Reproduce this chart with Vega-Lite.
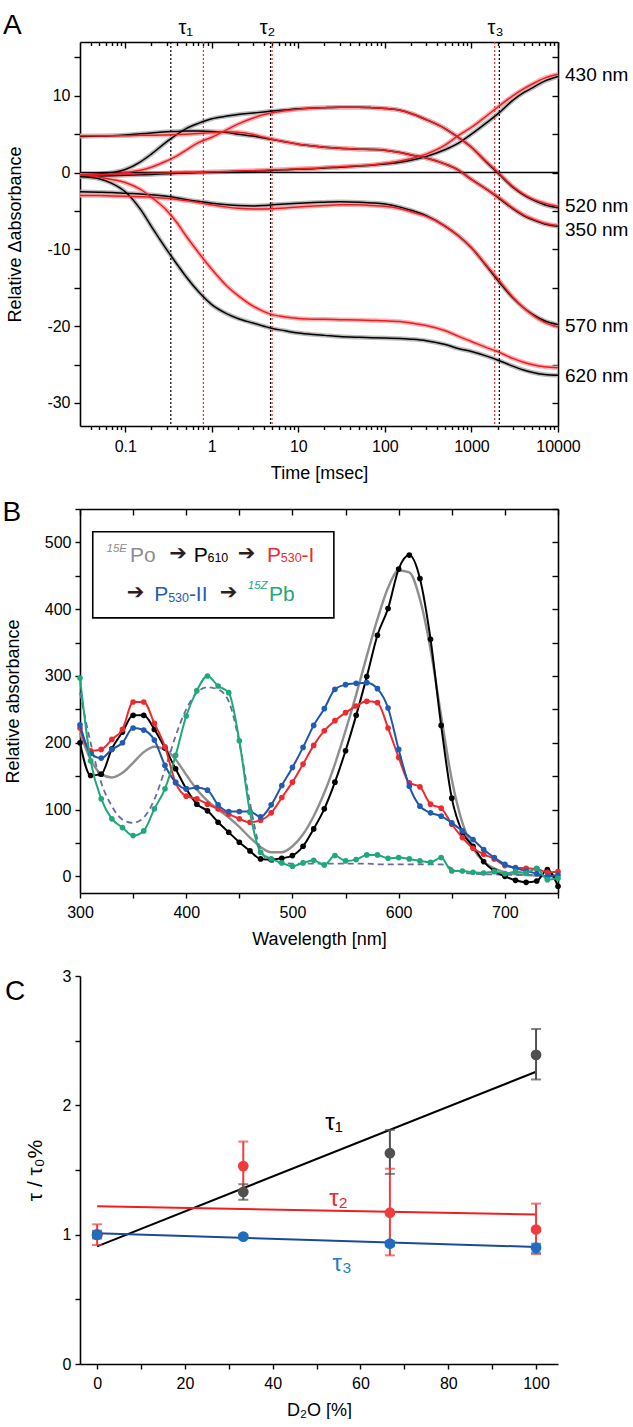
{
 "$schema": "https://vega.github.io/schema/vega-lite/v6.json",
 "padding": 0,
 "bounds": "flush",
 "spacing": 83,
 "resolve": {"scale": {"color": "independent"}},
 "config": {
  "font": "Liberation Sans",
  "view": {"stroke": null},
  "axis": {"grid": false, "labelFont": "Liberation Sans", "labelFontSize": 16, "labelColor": "#000", "titleFont": "Liberation Sans", "titleFontSize": 18, "titleFontWeight": "normal", "titleColor": "#000", "domainColor": "#000", "domainWidth": 1.6, "tickColor": "#000", "tickWidth": 1.4, "labelFlush": false, "labelOverlap": false, "labelBound": false},
  "axisX": {"labelPadding": 6, "titlePadding": 10},
  "axisY": {"labelPadding": 4},
  "text": {"font": "Liberation Sans"}
 },
 "datasets": {
  "fitsA": [
   {"t":0.03,"c":"H2O","w430":-0.5,"w520":-0.3,"w350":4.7,"w570":-2.5,"w620":-0.5},
   {"t":0.03,"c":"D2O","w430":-0.3,"w520":-0.3,"w350":4.8,"w570":-3.0,"w620":-0.3},
   {"t":0.05,"c":"H2O","w430":-0.45,"w520":-0.2,"w350":4.75,"w570":-2.55,"w620":-0.8},
   {"t":0.05,"c":"D2O","w430":-0.3,"w520":-0.25,"w350":4.8,"w570":-3.0,"w620":-0.6},
   {"t":0.07,"c":"H2O","w430":-0.4,"w520":0.0,"w350":4.8,"w570":-2.6,"w620":-1.4},
   {"t":0.07,"c":"D2O","w430":-0.25,"w520":-0.15,"w350":4.8,"w570":-3.05,"w620":-0.9},
   {"t":0.1,"c":"H2O","w430":-0.35,"w520":0.4,"w350":4.9,"w570":-2.7,"w620":-2.5},
   {"t":0.1,"c":"D2O","w430":-0.2,"w520":0.0,"w350":4.8,"w570":-3.1,"w620":-1.3},
   {"t":0.15,"c":"H2O","w430":-0.3,"w520":1.4,"w350":5.05,"w570":-2.8,"w620":-4.8},
   {"t":0.15,"c":"D2O","w430":-0.15,"w520":0.3,"w350":4.85,"w570":-3.15,"w620":-2.2},
   {"t":0.2,"c":"H2O","w430":-0.25,"w520":2.4,"w350":5.15,"w570":-2.9,"w620":-7.0},
   {"t":0.2,"c":"D2O","w430":-0.1,"w520":0.7,"w350":4.85,"w570":-3.2,"w620":-3.2},
   {"t":0.3,"c":"H2O","w430":-0.15,"w520":4.0,"w350":5.3,"w570":-3.1,"w620":-10.0},
   {"t":0.3,"c":"D2O","w430":-0.05,"w520":1.5,"w350":4.9,"w570":-3.35,"w620":-4.9},
   {"t":0.4,"c":"H2O","w430":-0.1,"w520":5.0,"w350":5.35,"w570":-3.3,"w620":-12.0},
   {"t":0.4,"c":"D2O","w430":0.0,"w520":2.2,"w350":4.95,"w570":-3.5,"w620":-6.6},
   {"t":0.5,"c":"H2O","w430":-0.05,"w520":5.7,"w350":5.4,"w570":-3.5,"w620":-13.5},
   {"t":0.5,"c":"D2O","w430":0.05,"w520":2.9,"w350":5.0,"w570":-3.65,"w620":-8.2},
   {"t":0.7,"c":"H2O","w430":0.0,"w520":6.4,"w350":5.4,"w570":-3.75,"w620":-15.5},
   {"t":0.7,"c":"D2O","w430":0.05,"w520":3.9,"w350":5.1,"w570":-3.9,"w620":-10.4},
   {"t":1,"c":"H2O","w430":0.05,"w520":7.0,"w350":5.35,"w570":-4.0,"w620":-17.2},
   {"t":1,"c":"D2O","w430":0.1,"w520":4.6,"w350":5.2,"w570":-4.2,"w620":-12.6},
   {"t":1.5,"c":"H2O","w430":0.1,"w520":7.35,"w350":5.2,"w570":-4.2,"w620":-18.4},
   {"t":1.5,"c":"D2O","w430":0.15,"w520":5.6,"w350":5.3,"w570":-4.5,"w620":-14.8},
   {"t":2,"c":"H2O","w430":0.15,"w520":7.55,"w350":5.0,"w570":-4.3,"w620":-19.0},
   {"t":2,"c":"D2O","w430":0.2,"w520":6.3,"w350":5.25,"w570":-4.65,"w620":-16.0},
   {"t":3,"c":"H2O","w430":0.2,"w520":7.75,"w350":4.75,"w570":-4.35,"w620":-19.6},
   {"t":3,"c":"D2O","w430":0.25,"w520":7.1,"w350":4.95,"w570":-4.75,"w620":-17.4},
   {"t":4,"c":"H2O","w430":0.25,"w520":7.9,"w350":4.5,"w570":-4.3,"w620":-20.0},
   {"t":4,"c":"D2O","w430":0.3,"w520":7.55,"w350":4.6,"w570":-4.75,"w620":-18.1},
   {"t":5,"c":"H2O","w430":0.3,"w520":8.0,"w350":4.3,"w570":-4.2,"w620":-20.3},
   {"t":5,"c":"D2O","w430":0.35,"w520":7.8,"w350":4.35,"w570":-4.7,"w620":-18.5},
   {"t":7,"c":"H2O","w430":0.35,"w520":8.15,"w350":4.0,"w570":-4.1,"w620":-20.6},
   {"t":7,"c":"D2O","w430":0.4,"w520":8.05,"w350":4.0,"w570":-4.6,"w620":-18.8},
   {"t":10,"c":"H2O","w430":0.45,"w520":8.3,"w350":3.7,"w570":-4.0,"w620":-20.9},
   {"t":10,"c":"D2O","w430":0.5,"w520":8.25,"w350":3.7,"w570":-4.5,"w620":-19.0},
   {"t":15,"c":"H2O","w430":0.5,"w520":8.4,"w350":3.45,"w570":-3.9,"w620":-21.1},
   {"t":15,"c":"D2O","w430":0.55,"w520":8.4,"w350":3.45,"w570":-4.35,"w620":-19.1},
   {"t":20,"c":"H2O","w430":0.6,"w520":8.45,"w350":3.3,"w570":-3.85,"w620":-21.2},
   {"t":20,"c":"D2O","w430":0.65,"w520":8.45,"w350":3.3,"w570":-4.3,"w620":-19.1},
   {"t":30,"c":"H2O","w430":0.7,"w520":8.5,"w350":3.15,"w570":-3.8,"w620":-21.35},
   {"t":30,"c":"D2O","w430":0.75,"w520":8.5,"w350":3.15,"w570":-4.2,"w620":-19.15},
   {"t":50,"c":"H2O","w430":0.85,"w520":8.5,"w350":3.05,"w570":-3.85,"w620":-21.45},
   {"t":50,"c":"D2O","w430":0.9,"w520":8.5,"w350":3.05,"w570":-4.2,"w620":-19.2},
   {"t":70,"c":"H2O","w430":0.95,"w520":8.45,"w350":3.0,"w570":-3.95,"w620":-21.5},
   {"t":70,"c":"D2O","w430":1.0,"w520":8.45,"w350":3.0,"w570":-4.3,"w620":-19.25},
   {"t":100,"c":"H2O","w430":1.1,"w520":8.35,"w350":2.9,"w570":-4.1,"w620":-21.55},
   {"t":100,"c":"D2O","w430":1.2,"w520":8.35,"w350":2.9,"w570":-4.4,"w620":-19.3},
   {"t":150,"c":"H2O","w430":1.35,"w520":8.1,"w350":2.6,"w570":-4.5,"w620":-21.6},
   {"t":150,"c":"D2O","w430":1.5,"w520":8.1,"w350":2.6,"w570":-4.7,"w620":-19.4},
   {"t":200,"c":"H2O","w430":1.6,"w520":7.7,"w350":2.3,"w570":-4.9,"w620":-21.7},
   {"t":200,"c":"D2O","w430":1.8,"w520":7.7,"w350":2.3,"w570":-5.1,"w620":-19.6},
   {"t":300,"c":"H2O","w430":2.1,"w520":6.9,"w350":1.9,"w570":-5.6,"w620":-21.9},
   {"t":300,"c":"D2O","w430":2.4,"w520":6.9,"w350":1.9,"w570":-5.7,"w620":-19.9},
   {"t":500,"c":"H2O","w430":3.0,"w520":5.7,"w350":1.1,"w570":-7.0,"w620":-22.4},
   {"t":500,"c":"D2O","w430":3.6,"w520":5.7,"w350":1.1,"w570":-7.0,"w620":-20.6},
   {"t":700,"c":"H2O","w430":3.8,"w520":4.6,"w350":0.35,"w570":-8.2,"w620":-22.9},
   {"t":700,"c":"D2O","w430":4.8,"w520":4.6,"w350":0.35,"w570":-8.2,"w620":-21.3},
   {"t":1000,"c":"H2O","w430":5.0,"w520":3.3,"w350":-0.9,"w570":-9.8,"w620":-23.3},
   {"t":1000,"c":"D2O","w430":5.9,"w520":3.3,"w350":-0.9,"w570":-9.8,"w620":-22.0},
   {"t":1500,"c":"H2O","w430":6.5,"w520":1.3,"w350":-2.2,"w570":-12.2,"w620":-23.9},
   {"t":1500,"c":"D2O","w430":7.4,"w520":1.4,"w350":-2.2,"w570":-12.1,"w620":-22.8},
   {"t":2000,"c":"H2O","w430":7.6,"w520":0.0,"w350":-3.2,"w570":-14.0,"w620":-24.4},
   {"t":2000,"c":"D2O","w430":8.5,"w520":0.1,"w350":-3.1,"w570":-13.8,"w620":-23.3},
   {"t":3000,"c":"H2O","w430":9.4,"w520":-1.9,"w350":-4.7,"w570":-16.3,"w620":-25.2},
   {"t":3000,"c":"D2O","w430":10.0,"w520":-1.8,"w350":-4.6,"w570":-16.2,"w620":-24.2},
   {"t":4000,"c":"H2O","w430":10.4,"w520":-2.9,"w350":-5.6,"w570":-17.6,"w620":-25.7},
   {"t":4000,"c":"D2O","w430":10.9,"w520":-2.8,"w350":-5.5,"w570":-17.6,"w620":-24.7},
   {"t":5000,"c":"H2O","w430":11.0,"w520":-3.5,"w350":-6.1,"w570":-18.4,"w620":-26.0},
   {"t":5000,"c":"D2O","w430":11.5,"w520":-3.4,"w350":-6.0,"w570":-18.5,"w620":-25.0},
   {"t":7000,"c":"H2O","w430":11.9,"w520":-4.2,"w350":-6.7,"w570":-19.3,"w620":-26.3},
   {"t":7000,"c":"D2O","w430":12.3,"w520":-4.0,"w350":-6.6,"w570":-19.5,"w620":-25.3},
   {"t":10000,"c":"H2O","w430":12.5,"w520":-4.6,"w350":-7.0,"w570":-19.8,"w620":-26.4},
   {"t":10000,"c":"D2O","w430":12.8,"w520":-4.4,"w350":-6.9,"w570":-20.1,"w620":-25.4}
  ],
  "specB": [
   {"nm":300,"Po":215,"P610":200,"P530I":222,"P530II":227,"Pb":297,"ref":275},
   {"nm":310,"Po":175,"P610":151,"P530I":188,"P530II":184,"Pb":173,"ref":200},
   {"nm":320,"Po":153,"P610":153,"P530I":190,"P530II":177,"Pb":116,"ref":140},
   {"nm":330,"Po":148,"P610":191,"P530I":205,"P530II":190,"Pb":86,"ref":105},
   {"nm":340,"Po":155,"P610":216,"P530I":220,"P530II":200,"Pb":73,"ref":85},
   {"nm":350,"Po":170,"P610":241,"P530I":261,"P530II":222,"Pb":61,"ref":80},
   {"nm":360,"Po":186,"P610":241,"P530I":261,"P530II":219,"Pb":68,"ref":88},
   {"nm":370,"Po":194,"P610":220,"P530I":229,"P530II":204,"Pb":101,"ref":115},
   {"nm":380,"Po":190,"P610":192,"P530I":194,"P530II":166,"Pb":131,"ref":160},
   {"nm":390,"Po":175,"P610":161,"P530I":140,"P530II":141,"Pb":181,"ref":210},
   {"nm":400,"Po":152,"P610":131,"P530I":120,"P530II":131,"Pb":240,"ref":250},
   {"nm":410,"Po":130,"P610":108,"P530I":116,"P530II":133,"Pb":278,"ref":275},
   {"nm":420,"Po":113,"P610":98,"P530I":108,"P530II":129,"Pb":300,"ref":283},
   {"nm":430,"Po":100,"P610":81,"P530I":101,"P530II":107,"Pb":285,"ref":280},
   {"nm":440,"Po":88,"P610":66,"P530I":93,"P530II":97,"Pb":275,"ref":262},
   {"nm":450,"Po":74,"P610":51,"P530I":86,"P530II":97,"Pb":203,"ref":200},
   {"nm":460,"Po":58,"P610":38,"P530I":81,"P530II":97,"Pb":96,"ref":110},
   {"nm":470,"Po":44,"P610":26,"P530I":84,"P530II":89,"Pb":36,"ref":40},
   {"nm":480,"Po":36,"P610":25,"P530I":95,"P530II":107,"Pb":26,"ref":22},
   {"nm":490,"Po":36,"P610":27,"P530I":118,"P530II":136,"Pb":20,"ref":20},
   {"nm":500,"Po":45,"P610":31,"P530I":141,"P530II":163,"Pb":15,"ref":19},
   {"nm":510,"Po":63,"P610":45,"P530I":168,"P530II":193,"Pb":20,"ref":19},
   {"nm":520,"Po":90,"P610":71,"P530I":196,"P530II":226,"Pb":24,"ref":19},
   {"nm":530,"Po":125,"P610":101,"P530I":218,"P530II":251,"Pb":17,"ref":19},
   {"nm":540,"Po":168,"P610":141,"P530I":233,"P530II":280,"Pb":31,"ref":19},
   {"nm":550,"Po":218,"P610":188,"P530I":245,"P530II":287,"Pb":23,"ref":19},
   {"nm":560,"Po":272,"P610":241,"P530I":255,"P530II":289,"Pb":25,"ref":19},
   {"nm":570,"Po":330,"P610":299,"P530I":262,"P530II":290,"Pb":32,"ref":19},
   {"nm":580,"Po":385,"P610":361,"P530I":260,"P530II":281,"Pb":32,"ref":18},
   {"nm":590,"Po":432,"P610":401,"P530I":222,"P530II":252,"Pb":27,"ref":18},
   {"nm":600,"Po":458,"P610":460,"P530I":178,"P530II":190,"Pb":28,"ref":18},
   {"nm":610,"Po":455,"P610":481,"P530I":140,"P530II":135,"Pb":26,"ref":18},
   {"nm":620,"Po":415,"P610":446,"P530I":134,"P530II":105,"Pb":23,"ref":18},
   {"nm":630,"Po":340,"P610":355,"P530I":108,"P530II":95,"Pb":21,"ref":18},
   {"nm":640,"Po":240,"P610":226,"P530I":102,"P530II":90,"Pb":28,"ref":18},
   {"nm":650,"Po":145,"P610":117,"P530I":78,"P530II":80,"Pb":8,"ref":12},
   {"nm":660,"Po":80,"P610":66,"P530I":58,"P530II":68,"Pb":8,"ref":6},
   {"nm":670,"Po":42,"P610":45,"P530I":42,"P530II":55,"Pb":6,"ref":4},
   {"nm":680,"Po":22,"P610":22,"P530I":33,"P530II":40,"Pb":5,"ref":3},
   {"nm":690,"Po":12,"P610":8,"P530I":26,"P530II":28,"Pb":7,"ref":3},
   {"nm":700,"Po":6,"P610":0,"P530I":16,"P530II":18,"Pb":4,"ref":2},
   {"nm":710,"Po":3,"P610":-6,"P530I":13,"P530II":12,"Pb":7,"ref":2},
   {"nm":720,"Po":2,"P610":-9,"P530I":12,"P530II":8,"Pb":5,"ref":2},
   {"nm":730,"Po":1,"P610":-7,"P530I":11,"P530II":4,"Pb":12,"ref":2},
   {"nm":740,"Po":0,"P610":10,"P530I":6,"P530II":0,"Pb":-5,"ref":2},
   {"nm":750,"Po":0,"P610":-15,"P530I":7,"P530II":2,"Pb":-3,"ref":2}
  ],
  "ptsC": [
   {"d":0,"tau":"t1","v":1.0,"lo":0.97,"hi":1.03},
   {"d":33.3,"tau":"t1","v":1.33,"lo":1.27,"hi":1.39},
   {"d":66.7,"tau":"t1","v":1.63,"lo":1.47,"hi":1.81},
   {"d":100,"tau":"t1","v":2.39,"lo":2.2,"hi":2.59},
   {"d":0,"tau":"t2","v":1.0,"lo":0.92,"hi":1.08},
   {"d":33.3,"tau":"t2","v":1.53,"lo":1.34,"hi":1.72},
   {"d":66.7,"tau":"t2","v":1.17,"lo":0.84,"hi":1.51},
   {"d":100,"tau":"t2","v":1.04,"lo":0.85,"hi":1.24},
   {"d":0,"tau":"t3","v":1.0,"lo":0.98,"hi":1.02},
   {"d":33.3,"tau":"t3","v":0.985,"lo":0.97,"hi":1.0},
   {"d":66.7,"tau":"t3","v":0.93,"lo":0.91,"hi":0.95},
   {"d":100,"tau":"t3","v":0.9,"lo":0.86,"hi":0.93}
  ],
  "fitC": [
   {"d":0,"t1":0.91,"t2":1.22,"t3":1.01},
   {"d":100,"t1":2.26,"t2":1.155,"t3":0.905}
  ]
 },
 "vconcat": [
  {
   "width": 478, "height": 384,
   "resolve": {"axis": {"x": "independent", "y": "independent"}},
   "layer": [
    {
     "data": {"values": [{"t": 0.003666, "v": 22.34, "v2": 22.0}]},
     "mark": {"type": "rule", "color": "white", "strokeWidth": 1},
     "encoding": {
      "x": {"field": "t", "type": "quantitative", "scale": {"type": "log", "domain": [0.03, 10000], "nice": false}, "axis": null},
      "y": {"field": "v", "type": "quantitative", "scale": {"domain": [-33, 17], "nice": false, "zero": false}, "axis": null},
      "y2": {"field": "v2"}
     }
    },
    {
     "data": {"name": "fitsA"},
     "transform": [{"filter": "datum.c === 'H2O'"}, {"fold": ["w430", "w520", "w350", "w570", "w620"], "as": ["nm", "v"]}],
     "mark": {"type": "line", "interpolate": "monotone", "color": "#a9a9a9", "strokeWidth": 4.5, "opacity": 0.8},
     "encoding": {
      "x": {"field": "t", "type": "quantitative", "scale": {"type": "log", "domain": [0.03, 10000], "nice": false},
            "axis": {"orient": "bottom", "values": [0.1, 1, 10, 100, 1000, 10000], "labelExpr": "'' + datum.value", "tickSize": 6, "title": "Time [msec]"}},
      "y": {"field": "v", "type": "quantitative", "scale": {"domain": [-33, 17], "nice": false, "zero": false},
            "axis": {"orient": "left", "values": [-30, -25, -20, -15, -10, -5, 0, 5, 10, 15], "labelExpr": "datum.value % 10 == 0 ? '' + datum.value : ''", "tickSize": 6, "title": "Relative Δabsorbance", "titlePadding": 22}},
      "detail": {"field": "nm", "type": "nominal"}
     }
    },
    {
     "data": {"name": "fitsA"},
     "transform": [{"filter": "datum.c === 'D2O'"}, {"fold": ["w430", "w520", "w350", "w570", "w620"], "as": ["nm", "v"]}],
     "mark": {"type": "line", "interpolate": "monotone", "color": "#f5a3a3", "strokeWidth": 4.5, "opacity": 0.85},
     "encoding": {
      "x": {"field": "t", "type": "quantitative", "scale": {"type": "log", "domain": [0.03, 10000], "nice": false},
            "axis": {"orient": "bottom", "values": [0.04,0.05,0.06,0.07,0.08,0.09,0.2,0.3,0.4,0.5,0.6,0.7,0.8,0.9,2,3,4,5,6,7,8,9,20,30,40,50,60,70,80,90,200,300,400,500,600,700,800,900,2000,3000,4000,5000,6000,7000,8000,9000], "labels": false, "tickSize": 3.5, "domain": false, "title": null}},
      "y": {"field": "v", "type": "quantitative", "scale": {"domain": [-33, 17], "nice": false, "zero": false},
            "axis": {"orient": "right", "values": [-30, -25, -20, -15, -10, -5, 0, 5, 10, 15], "labels": false, "tickSize": -6, "domain": true, "title": null}},
      "detail": {"field": "nm", "type": "nominal"}
     }
    },
    {
     "data": {"values": [{"t": 0.336}, {"t": 4.77}, {"t": 2100}]},
     "mark": {"type": "rule", "color": "#000", "strokeWidth": 1.2, "strokeDash": [2, 2]},
     "encoding": {
      "x": {"field": "t", "type": "quantitative", "scale": {"type": "log", "domain": [0.03, 10000], "nice": false},
            "axis": {"orient": "top", "values": [0.1, 1, 10, 100, 1000, 10000], "labels": false, "tickSize": -6, "domain": true, "title": null}},
      "y": {"datum": 17, "type": "quantitative", "scale": {"domain": [-33, 17], "nice": false, "zero": false}, "axis": null},
      "y2": {"datum": -33}
     }
    },
    {
     "data": {"values": [{"t": 0.8}, {"t": 4.97}, {"t": 1857}]},
     "mark": {"type": "rule", "color": "#ee2a2a", "strokeWidth": 1.2, "strokeDash": [2, 2]},
     "encoding": {
      "x": {"field": "t", "type": "quantitative", "scale": {"type": "log", "domain": [0.03, 10000], "nice": false},
            "axis": {"orient": "top", "values": [0.04,0.05,0.06,0.07,0.08,0.09,0.2,0.3,0.4,0.5,0.6,0.7,0.8,0.9,2,3,4,5,6,7,8,9,20,30,40,50,60,70,80,90,200,300,400,500,600,700,800,900,2000,3000,4000,5000,6000,7000,8000,9000], "labels": false, "tickSize": -3.5, "domain": false, "title": null}},
      "y": {"datum": 17, "type": "quantitative", "scale": {"domain": [-33, 17], "nice": false, "zero": false}, "axis": null},
      "y2": {"datum": -33}
     }
    },
    {
     "data": {"values": [{"a": 0.03, "b": 10000, "v": 0}]},
     "mark": {"type": "rule", "color": "#000", "strokeWidth": 1.6},
     "encoding": {
      "x": {"field": "a", "type": "quantitative", "scale": {"type": "log", "domain": [0.03, 10000], "nice": false}, "axis": null},
      "x2": {"field": "b"},
      "y": {"field": "v", "type": "quantitative", "scale": {"domain": [-33, 17], "nice": false, "zero": false}, "axis": null}
     }
    },
    {
     "data": {"name": "fitsA"},
     "transform": [{"filter": "datum.c === 'H2O'"}, {"fold": ["w430", "w520", "w350", "w570", "w620"], "as": ["nm", "v"]}],
     "mark": {"type": "line", "interpolate": "monotone", "color": "#000", "strokeWidth": 1.5},
     "encoding": {
      "x": {"field": "t", "type": "quantitative", "scale": {"type": "log", "domain": [0.03, 10000], "nice": false}, "axis": null},
      "y": {"field": "v", "type": "quantitative", "scale": {"domain": [-33, 17], "nice": false, "zero": false}, "axis": null},
      "detail": {"field": "nm", "type": "nominal"}
     }
    },
    {
     "data": {"name": "fitsA"},
     "transform": [{"filter": "datum.c === 'D2O'"}, {"fold": ["w430", "w520", "w350", "w570", "w620"], "as": ["nm", "v"]}],
     "mark": {"type": "line", "interpolate": "monotone", "color": "#ec1c24", "strokeWidth": 1.5},
     "encoding": {
      "x": {"field": "t", "type": "quantitative", "scale": {"type": "log", "domain": [0.03, 10000], "nice": false}, "axis": null},
      "y": {"field": "v", "type": "quantitative", "scale": {"domain": [-33, 17], "nice": false, "zero": false}, "axis": null},
      "detail": {"field": "nm", "type": "nominal"}
     }
    },
    {
     "data": {"values": [{"t": 10000, "v": 12.7, "lab": "430 nm"}, {"t": 10000, "v": -4.4, "lab": "520 nm"}, {"t": 10000, "v": -7.5, "lab": "350 nm"}, {"t": 10000, "v": -20, "lab": "570 nm"}, {"t": 10000, "v": -26.5, "lab": "620 nm"}]},
     "mark": {"type": "text", "align": "left", "baseline": "middle", "dx": 7, "fontSize": 19, "color": "#000"},
     "encoding": {
      "x": {"field": "t", "type": "quantitative", "scale": {"type": "log", "domain": [0.03, 10000], "nice": false}, "axis": null},
      "y": {"field": "v", "type": "quantitative", "scale": {"domain": [-33, 17], "nice": false, "zero": false}, "axis": null},
      "text": {"field": "lab"}
     }
    },
    {
     "data": {"values": [{"t": 0.5, "v": 18.0, "lab": "τ₁"}, {"t": 4.4, "v": 18.0, "lab": "τ₂"}, {"t": 1900, "v": 18.0, "lab": "τ₃"}]},
     "mark": {"type": "text", "align": "center", "baseline": "alphabetic", "fontSize": 20, "color": "#000"},
     "encoding": {
      "x": {"field": "t", "type": "quantitative", "scale": {"type": "log", "domain": [0.03, 10000], "nice": false}, "axis": null},
      "y": {"field": "v", "type": "quantitative", "scale": {"domain": [-33, 17], "nice": false, "zero": false}, "axis": null},
      "text": {"field": "lab"}
     }
    },
    {
     "data": {"values": [{"t": 0.00387, "v": 18.04, "lab": "A"}]},
     "mark": {"type": "text", "align": "left", "baseline": "alphabetic", "fontSize": 28, "color": "#000"},
     "encoding": {
      "x": {"field": "t", "type": "quantitative", "scale": {"type": "log", "domain": [0.03, 10000], "nice": false}, "axis": null},
      "y": {"field": "v", "type": "quantitative", "scale": {"domain": [-33, 17], "nice": false, "zero": false}, "axis": null},
      "text": {"field": "lab"}
     }
    }
   ]
  },
  {
   "width": 478, "height": 384,
   "resolve": {"axis": {"x": "independent", "y": "independent"}},
   "layer": [
    {
     "data": {"name": "specB"},
     "mark": {"type": "line", "interpolate": "monotone", "color": "#8e8e8e", "strokeWidth": 2.4},
     "encoding": {
      "x": {"field": "nm", "type": "quantitative", "scale": {"domain": [300, 750], "nice": false, "zero": false},
            "axis": {"orient": "bottom", "values": [300,350,400,450,500,550,600,650,700,750], "labelExpr": "datum.value % 100 == 0 ? '' + datum.value : ''", "tickSize": 5, "title": "Wavelength [nm]"}},
      "y": {"field": "Po", "type": "quantitative", "scale": {"domain": [-25, 550], "nice": false, "zero": false},
            "axis": {"orient": "left", "values": [0,50,100,150,200,250,300,350,400,450,500,550], "labelExpr": "datum.value % 100 == 0 ? '' + datum.value : ''", "tickSize": 5, "title": "Relative absorbance", "titlePadding": 22}}
     }
    },
    {
     "data": {"name": "specB"},
     "mark": {"type": "line", "interpolate": "monotone", "color": "#6a6aa0", "strokeWidth": 1.8, "strokeDash": [6, 4]},
     "encoding": {
      "x": {"field": "nm", "type": "quantitative", "scale": {"domain": [300, 750], "nice": false, "zero": false},
            "axis": {"orient": "top", "values": [300,350,400,450,500,550,600,650,700,750], "labels": false, "tickSize": -6, "domain": true, "title": null}},
      "y": {"field": "ref", "type": "quantitative", "scale": {"domain": [-25, 550], "nice": false, "zero": false},
            "axis": {"orient": "right", "values": [0,50,100,150,200,250,300,350,400,450,500,550], "labels": false, "tickSize": -6, "domain": true, "title": null}}
     }
    },
    {
     "data": {"name": "specB"},
     "mark": {"type": "line", "interpolate": "monotone", "color": "#000", "strokeWidth": 2, "point": {"filled": true, "size": 32, "color": "#000"}},
     "encoding": {
      "x": {"field": "nm", "type": "quantitative", "scale": {"domain": [300, 750], "nice": false, "zero": false}, "axis": null},
      "y": {"field": "P610", "type": "quantitative", "scale": {"domain": [-25, 550], "nice": false, "zero": false}, "axis": null}
     }
    },
    {
     "data": {"name": "specB"},
     "mark": {"type": "line", "interpolate": "monotone", "color": "#ef2a2e", "strokeWidth": 2, "point": {"filled": true, "size": 32, "color": "#ef2a2e"}},
     "encoding": {
      "x": {"field": "nm", "type": "quantitative", "scale": {"domain": [300, 750], "nice": false, "zero": false}, "axis": null},
      "y": {"field": "P530I", "type": "quantitative", "scale": {"domain": [-25, 550], "nice": false, "zero": false}, "axis": null}
     }
    },
    {
     "data": {"name": "specB"},
     "mark": {"type": "line", "interpolate": "monotone", "color": "#1f56aa", "strokeWidth": 2, "point": {"filled": true, "size": 32, "color": "#1f5cb4"}},
     "encoding": {
      "x": {"field": "nm", "type": "quantitative", "scale": {"domain": [300, 750], "nice": false, "zero": false}, "axis": null},
      "y": {"field": "P530II", "type": "quantitative", "scale": {"domain": [-25, 550], "nice": false, "zero": false}, "axis": null}
     }
    },
    {
     "data": {"name": "specB"},
     "mark": {"type": "line", "interpolate": "monotone", "color": "#1fa87a", "strokeWidth": 2, "point": {"filled": true, "size": 32, "color": "#1fa87a"}},
     "encoding": {
      "x": {"field": "nm", "type": "quantitative", "scale": {"domain": [300, 750], "nice": false, "zero": false}, "axis": null},
      "y": {"field": "Pb", "type": "quantitative", "scale": {"domain": [-25, 550], "nice": false, "zero": false}, "axis": null}
     }
    },
    {
     "data": {"values": [{"x1": 312, "x2": 539, "y1": 516, "y2": 387}]},
     "mark": {"type": "rect", "fill": "white", "stroke": "#000", "strokeWidth": 1.6},
     "encoding": {
      "x": {"field": "x1", "type": "quantitative", "scale": {"domain": [300, 750], "nice": false, "zero": false}, "axis": null},
      "x2": {"field": "x2"},
      "y": {"field": "y1", "type": "quantitative", "scale": {"domain": [-25, 550], "nice": false, "zero": false}, "axis": null},
      "y2": {"field": "y2"}
     }
    },
    {
     "data": {"values": [
      {"x": 347, "y": 471, "txt": "Po", "sp": "Po"},
      {"x": 407, "y": 471, "txt": "P", "sp": "P610"},
      {"x": 476, "y": 471, "txt": "P", "sp": "P530I"},
      {"x": 508.5, "y": 471, "txt": "-I", "sp": "P530I"},
      {"x": 370, "y": 412, "txt": "P", "sp": "P530II"},
      {"x": 402.5, "y": 412, "txt": "-II", "sp": "P530II"},
      {"x": 478, "y": 412, "txt": "Pb", "sp": "Pb"}
     ]},
     "mark": {"type": "text", "align": "left", "baseline": "alphabetic", "fontSize": 21},
     "encoding": {
      "x": {"field": "x", "type": "quantitative", "scale": {"domain": [300, 750], "nice": false, "zero": false}, "axis": null},
      "y": {"field": "y", "type": "quantitative", "scale": {"domain": [-25, 550], "nice": false, "zero": false}, "axis": null},
      "text": {"field": "txt"},
      "color": {"field": "sp", "type": "nominal", "scale": {"domain": ["Po", "P610", "P530I", "P530II", "Pb", "arrow"], "range": ["#8e8e8e", "#000000", "#ef2a2e", "#1f5cb4", "#1fa87a", "#2b1d1d"]}, "legend": null}
     }
    },
    {
     "data": {"values": [
      {"x": 420, "y": 470, "txt": "610", "sp": "P610"},
      {"x": 489, "y": 470, "txt": "530", "sp": "P530I"},
      {"x": 383, "y": 411, "txt": "530", "sp": "P530II"}
     ]},
     "mark": {"type": "text", "align": "left", "baseline": "alphabetic", "fontSize": 12.5},
     "encoding": {
      "x": {"field": "x", "type": "quantitative", "scale": {"domain": [300, 750], "nice": false, "zero": false}, "axis": null},
      "y": {"field": "y", "type": "quantitative", "scale": {"domain": [-25, 550], "nice": false, "zero": false}, "axis": null},
      "text": {"field": "txt"},
      "color": {"field": "sp", "type": "nominal", "legend": null}
     }
    },
    {
     "data": {"values": [
      {"x": 325, "y": 485, "txt": "15E", "sp": "Po"},
      {"x": 458, "y": 430, "txt": "15Z", "sp": "Pb"}
     ]},
     "mark": {"type": "text", "align": "left", "baseline": "alphabetic", "fontSize": 11.5, "fontStyle": "italic"},
     "encoding": {
      "x": {"field": "x", "type": "quantitative", "scale": {"domain": [300, 750], "nice": false, "zero": false}, "axis": null},
      "y": {"field": "y", "type": "quantitative", "scale": {"domain": [-25, 550], "nice": false, "zero": false}, "axis": null},
      "text": {"field": "txt"},
      "color": {"field": "sp", "type": "nominal", "legend": null}
     }
    },
    {
     "data": {"values": [
      {"x": 384, "y": 474, "txt": "➔", "sp": "arrow"},
      {"x": 448.5, "y": 474, "txt": "➔", "sp": "arrow"},
      {"x": 344, "y": 415, "txt": "➔", "sp": "arrow"},
      {"x": 431.5, "y": 415, "txt": "➔", "sp": "arrow"}
     ]},
     "mark": {"type": "text", "align": "left", "baseline": "alphabetic", "fontSize": 21, "font": "DejaVu Sans"},
     "encoding": {
      "x": {"field": "x", "type": "quantitative", "scale": {"domain": [300, 750], "nice": false, "zero": false}, "axis": null},
      "y": {"field": "y", "type": "quantitative", "scale": {"domain": [-25, 550], "nice": false, "zero": false}, "axis": null},
      "text": {"field": "txt"},
      "color": {"field": "sp", "type": "nominal", "legend": null}
     }
    },
    {
     "data": {"values": [{"x": 227, "y": 532, "lab": "B"}]},
     "mark": {"type": "text", "align": "left", "baseline": "alphabetic", "fontSize": 28, "color": "#000"},
     "encoding": {
      "x": {"field": "x", "type": "quantitative", "scale": {"domain": [300, 750], "nice": false, "zero": false}, "axis": null},
      "y": {"field": "y", "type": "quantitative", "scale": {"domain": [-25, 550], "nice": false, "zero": false}, "axis": null},
      "text": {"field": "lab"}
     }
    }
   ]
  },
  {
   "width": 478, "height": 388,
   "resolve": {"axis": {"x": "independent", "y": "independent"}},
   "layer": [
    {
     "data": {"name": "fitC"},
     "mark": {"type": "line", "color": "#000", "strokeWidth": 2},
     "encoding": {
      "x": {"field": "d", "type": "quantitative", "scale": {"domain": [-3.9, 105], "nice": false, "zero": false},
            "axis": {"orient": "bottom", "values": [0,10,20,30,40,50,60,70,80,90,100], "labelExpr": "datum.value % 20 == 0 ? '' + datum.value : ''", "tickSize": 5, "title": "D₂O [%]"}},
      "y": {"field": "t1", "type": "quantitative", "scale": {"domain": [0, 3], "nice": false},
            "axis": {"orient": "left", "values": [0, 0.5, 1, 1.5, 2, 2.5, 3], "labelExpr": "datum.value % 1 == 0 ? '' + datum.value : ''", "tickSize": 5, "title": "τ / τ₀%", "titleFontSize": 21, "titlePadding": 17}}
     }
    },
    {
     "data": {"name": "fitC"},
     "mark": {"type": "line", "color": "#f01e1e", "strokeWidth": 2},
     "encoding": {
      "x": {"field": "d", "type": "quantitative", "scale": {"domain": [-3.9, 105], "nice": false, "zero": false}, "axis": null},
      "y": {"field": "t2", "type": "quantitative", "scale": {"domain": [0, 3], "nice": false}, "axis": null}
     }
    },
    {
     "data": {"name": "fitC"},
     "mark": {"type": "line", "color": "#1b4a9a", "strokeWidth": 2},
     "encoding": {
      "x": {"field": "d", "type": "quantitative", "scale": {"domain": [-3.9, 105], "nice": false, "zero": false}, "axis": null},
      "y": {"field": "t3", "type": "quantitative", "scale": {"domain": [0, 3], "nice": false}, "axis": null}
     }
    },
    {
     "data": {"name": "ptsC"},
     "mark": {"type": "rule", "strokeWidth": 2},
     "encoding": {
      "x": {"field": "d", "type": "quantitative", "scale": {"domain": [-3.9, 105], "nice": false, "zero": false}, "axis": null},
      "y": {"field": "lo", "type": "quantitative", "scale": {"domain": [0, 3], "nice": false}, "axis": null},
      "y2": {"field": "hi"},
      "color": {"field": "tau", "type": "nominal", "scale": {"domain": ["t1", "t2", "t3"], "range": ["#505050", "#f23c3c", "#1f6cc0"]}, "legend": null}
     }
    },
    {
     "data": {"name": "ptsC"},
     "mark": {"type": "tick", "orient": "horizontal", "size": 10, "thickness": 2},
     "encoding": {
      "x": {"field": "d", "type": "quantitative", "scale": {"domain": [-3.9, 105], "nice": false, "zero": false}, "axis": null},
      "y": {"field": "lo", "type": "quantitative", "scale": {"domain": [0, 3], "nice": false}, "axis": null},
      "color": {"field": "tau", "type": "nominal", "legend": null}
     }
    },
    {
     "data": {"name": "ptsC"},
     "mark": {"type": "tick", "orient": "horizontal", "size": 10, "thickness": 2},
     "encoding": {
      "x": {"field": "d", "type": "quantitative", "scale": {"domain": [-3.9, 105], "nice": false, "zero": false}, "axis": null},
      "y": {"field": "hi", "type": "quantitative", "scale": {"domain": [0, 3], "nice": false}, "axis": null},
      "color": {"field": "tau", "type": "nominal", "legend": null}
     }
    },
    {
     "data": {"name": "ptsC"},
     "mark": {"type": "circle", "size": 115, "opacity": 1},
     "encoding": {
      "x": {"field": "d", "type": "quantitative", "scale": {"domain": [-3.9, 105], "nice": false, "zero": false}, "axis": null},
      "y": {"field": "v", "type": "quantitative", "scale": {"domain": [0, 3], "nice": false}, "axis": null},
      "color": {"field": "tau", "type": "nominal", "legend": null}
     }
    },
    {
     "data": {"values": [{"d": 54, "v": 1.81, "lab": "τ₁"}]},
     "mark": {"type": "text", "align": "center", "baseline": "alphabetic", "fontSize": 24, "color": "#000"},
     "encoding": {
      "x": {"field": "d", "type": "quantitative", "scale": {"domain": [-3.9, 105], "nice": false, "zero": false}, "axis": null},
      "y": {"field": "v", "type": "quantitative", "scale": {"domain": [0, 3], "nice": false}, "axis": null},
      "text": {"field": "lab"}
     }
    },
    {
     "data": {"values": [{"d": 55, "v": 1.22, "lab": "τ₂"}]},
     "mark": {"type": "text", "align": "center", "baseline": "alphabetic", "fontSize": 24, "color": "#ea2a2e"},
     "encoding": {
      "x": {"field": "d", "type": "quantitative", "scale": {"domain": [-3.9, 105], "nice": false, "zero": false}, "axis": null},
      "y": {"field": "v", "type": "quantitative", "scale": {"domain": [0, 3], "nice": false}, "axis": null},
      "text": {"field": "lab"}
     }
    },
    {
     "data": {"values": [{"d": 55.8, "v": 0.72, "lab": "τ₃"}]},
     "mark": {"type": "text", "align": "center", "baseline": "alphabetic", "fontSize": 24, "color": "#2a7cc4"},
     "encoding": {
      "x": {"field": "d", "type": "quantitative", "scale": {"domain": [-3.9, 105], "nice": false, "zero": false}, "axis": null},
      "y": {"field": "v", "type": "quantitative", "scale": {"domain": [0, 3], "nice": false}, "axis": null},
      "text": {"field": "lab"}
     }
    },
    {
     "data": {"values": [{"d": -21, "v": 2.814, "lab": "C"}]},
     "mark": {"type": "text", "align": "left", "baseline": "alphabetic", "fontSize": 28, "color": "#000"},
     "encoding": {
      "x": {"field": "d", "type": "quantitative", "scale": {"domain": [-3.9, 105], "nice": false, "zero": false}, "axis": null},
      "y": {"field": "v", "type": "quantitative", "scale": {"domain": [0, 3], "nice": false}, "axis": null},
      "text": {"field": "lab"}
     }
    }
   ]
  }
 ]
}
